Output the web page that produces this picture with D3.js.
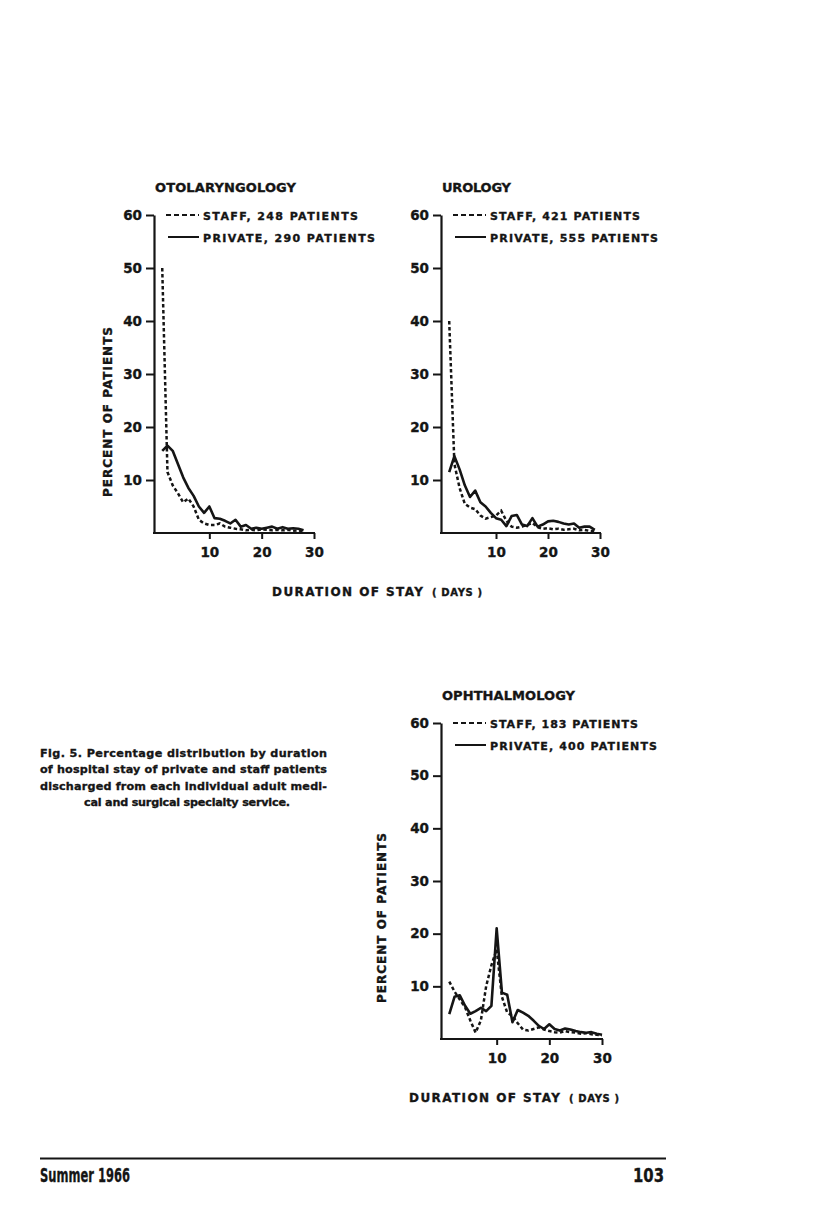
<!DOCTYPE html>
<html><head><meta charset="utf-8">
<script src="https://cdn.jsdelivr.net/npm/d3@7"></script>
<style>
html,body{margin:0;padding:0;background:#fff;}
svg{display:block;}
text{font-family:"DejaVu Sans",sans-serif;font-weight:bold;fill:#151515;stroke:#151515;stroke-width:0.35px;}
</style></head>
<body>
<svg id="c" width="816" height="1217"></svg>
<script>
// ---------- DATA ----------
const otoDays = [1,2,3,4,5,6,7,8,9,10,11,12,13,14,15,16,17,18,19,20,21,22,23,24,25,26,27,28];
const otoStaff = [50,11.5,9,7.5,5.8,6.5,5,2.5,1.8,1.5,1.5,1.8,1.2,1,0.8,0.7,0.5,0.6,0.5,0.7,0.6,0.5,0.6,0.5,0.6,0.4,0.5,0.3];
const otoPrivate = [15.5,16.5,15.5,13,10.5,8.5,7,5,3.8,5,2.8,2.7,2.3,1.8,2.5,1.2,1.5,0.8,1,0.8,1,1.2,0.8,1.1,0.8,0.9,0.8,0.5];

const uroDays = [1,2,3,4,5,6,7,8,9,10,11,12,13,14,15,16,17,18,19,20,21,22,23,24,25,26,27,28,29];
const uroStaff = [40,13,8.5,5.5,4.8,4.5,3.3,2.7,3,3.3,4.2,2.3,1.2,1,1.2,1.5,1.9,1.1,0.8,0.9,0.7,0.8,0.6,0.7,0.8,0.5,0.6,0.4,0.3];
const uroPrivate = [11.5,14.5,12,9,6.8,8,5.8,5,3.8,2.8,2.5,1.3,3.2,3.4,1.6,1.3,2.8,1.2,1.6,2.2,2.3,2.1,1.8,1.6,1.8,1,1.2,1.2,0.6];

const ophDays = [1,2,3,4,5,6,7,8,9,10,11,12,13,14,15,16,17,18,19,20,21,22,23,24,25,26,27,28,29,30];
const ophStaff = [10.9,9,7.5,6,3.5,1.2,3.5,10,14,17,8,5,4.4,3,1.8,1.6,1.9,2.2,1.8,1.5,1.3,1.2,1.5,1.3,1.2,1,1.1,0.9,0.8,0.7];
const ophPrivate = [4.7,8,8.3,6.3,4.8,5.3,5.9,5.3,6.3,21,8.8,8.4,3.2,5.5,5,4.4,3.5,2.5,1.9,2.8,1.9,1.6,2,1.8,1.5,1.3,1.2,1.3,1,0.8];

const yTicks = [10,20,30,40,50,60];
const xTicks = [10,20,30];
const titles = ["OTOLARYNGOLOGY","UROLOGY","OPHTHALMOLOGY"];
const staffLabels = ["STAFF, 248 PATIENTS","STAFF, 421 PATIENTS","STAFF, 183 PATIENTS"];
const privateLabels = ["PRIVATE, 290 PATIENTS","PRIVATE, 555 PATIENTS","PRIVATE, 400 PATIENTS"];
const yLabel = "PERCENT OF PATIENTS";
const xLabel = "DURATION OF STAY";
const xLabelUnit = "( DAYS )";
const captionLines = [
  "Fig. 5. Percentage distribution by duration",
  "of hospital stay of private and staff patients",
  "discharged from each individual adult medi-",
  "cal and surgical specialty service."
];
const footerLeft = "Summer 1966";
const footerRight = "103";

// ---------- LAYOUT ----------
const svg = d3.select("#c");
const ink = "#151515";

const panels = [
  {days: otoDays, staff: otoStaff, priv: otoPrivate, title: titles[0], sl: staffLabels[0], pl: privateLabels[0],
   axisX:154, xr:[157,314], yr:[533,215], titleW:141, slW:155, plW:172, yLab:{x:108,cy:412}, xLab:{x:272}},
  {days: uroDays, staff: uroStaff, priv: uroPrivate, title: titles[1], sl: staffLabels[1], pl: privateLabels[1],
   axisX:441, xr:[444,600], yr:[533,215], titleW:69, slW:150, plW:168, yLab:null, xLab:null},
  {days: ophDays, staff: ophStaff, priv: ophPrivate, title: titles[2], sl: staffLabels[2], pl: privateLabels[2],
   axisX:441, xr:[444,602], yr:[1039,723], titleW:133, slW:148, plW:167, yLab:{x:382,cy:918}, xLab:{x:409}}
];

panels.forEach(p => {
  const x = d3.scaleLinear().domain([0,30]).range(p.xr);
  const y = d3.scaleLinear().domain([0,60]).range(p.yr);
  const g = svg.append("g");
  const base = y(0), top = y(60);

  // title
  g.append("text").attr("x", p.axisX+1).attr("y", top-23)
    .attr("font-size", 13).attr("textLength", p.titleW).attr("lengthAdjust","spacing").text(p.title);

  // y axis
  const ya = d3.axisLeft(y).tickValues(yTicks).tickSize(8).tickSizeOuter(0).tickPadding(4).tickFormat(d3.format("d"));
  const yg = g.append("g").attr("transform", `translate(${p.axisX},0)`).call(ya);
  yg.select(".domain").attr("stroke", ink).attr("stroke-width", 2.2);
  yg.selectAll(".tick line").attr("stroke", ink).attr("stroke-width", 2);
  yg.selectAll(".tick text").attr("font-size", 13.5).attr("font-family", "DejaVu Sans").attr("font-weight","bold").attr("fill", ink);

  // x axis
  g.append("line").attr("x1", p.axisX-1).attr("x2", x(30)+1).attr("y1", base).attr("y2", base)
    .attr("stroke", ink).attr("stroke-width", 2.2);
  const xa = d3.axisBottom(x).tickValues(xTicks).tickSize(6).tickSizeOuter(0).tickPadding(8).tickFormat(d3.format("d"));
  const xg = g.append("g").attr("transform", `translate(0,${base})`).call(xa);
  xg.select(".domain").remove();
  xg.selectAll(".tick line").attr("stroke", ink).attr("stroke-width", 2);
  xg.selectAll(".tick text").attr("font-size", 13.5).attr("font-family", "DejaVu Sans").attr("font-weight","bold").attr("fill", ink);

  // legend
  const lx1 = p.axisX+12, lx2 = p.axisX+45, tx = p.axisX+49;
  g.append("line").attr("x1", lx1).attr("x2", lx2).attr("y1", top).attr("y2", top)
    .attr("stroke", ink).attr("stroke-width", 2).attr("stroke-dasharray", "5,3");
  g.append("text").attr("x", tx).attr("y", top+4.5).attr("font-size", 11)
    .attr("textLength", p.slW).attr("lengthAdjust","spacing").text(p.sl);
  g.append("line").attr("x1", lx1+2).attr("x2", lx2).attr("y1", top+22).attr("y2", top+22)
    .attr("stroke", ink).attr("stroke-width", 2);
  g.append("text").attr("x", tx).attr("y", top+26.5).attr("font-size", 11)
    .attr("textLength", p.plW).attr("lengthAdjust","spacing").text(p.pl);

  // lines
  const line = d3.line().x((d,i) => x(p.days[i])).y(d => y(d));
  g.append("path").datum(p.priv).attr("d", line).attr("fill","none")
    .attr("stroke", ink).attr("stroke-width", 2.6).attr("stroke-linejoin","round");
  g.append("path").datum(p.staff).attr("d", line).attr("fill","none")
    .attr("stroke", ink).attr("stroke-width", 2.5).attr("stroke-dasharray","3.5,2.5");

  // y label
  if (p.yLab) {
    g.append("text").attr("transform", `translate(${p.yLab.x+4},${p.yLab.cy}) rotate(-90)`)
      .attr("text-anchor","middle").attr("font-size", 12)
      .attr("textLength", 170).attr("lengthAdjust","spacing").text(yLabel);
  }
  // x label
  if (p.xLab) {
    const yy = base + 63;
    g.append("text").attr("x", p.xLab.x).attr("y", yy).attr("font-size", 12)
      .attr("textLength", 151).attr("lengthAdjust","spacing").text(xLabel);
    g.append("text").attr("x", p.xLab.x+160).attr("y", yy).attr("font-size", 10)
      .attr("textLength", 50).attr("lengthAdjust","spacing").text(xLabelUnit);
  }
});

// caption
const capY = [757, 773, 790, 806];
captionLines.forEach((t,i) => {
  const tt = svg.append("text").attr("y", capY[i]).attr("font-size", 11.2).text(t);
  if (i < 3) tt.attr("x", 40).attr("textLength", 287).attr("lengthAdjust","spacing");
  else tt.attr("x", 187).attr("text-anchor","middle").attr("textLength", 206).attr("lengthAdjust","spacing");
});

// footer
svg.append("line").attr("x1", 40).attr("x2", 666).attr("y1", 1158.5).attr("y2", 1158.5)
  .attr("stroke", ink).attr("stroke-width", 2);
svg.append("text").attr("x", 40).attr("y", 1182).attr("font-size", 19)
  .attr("textLength", 90).attr("lengthAdjust","spacingAndGlyphs").text(footerLeft);
svg.append("text").attr("x", 633).attr("y", 1182).attr("font-size", 19)
  .attr("textLength", 31).attr("lengthAdjust","spacingAndGlyphs").text(footerRight);
</script>
</body></html>
